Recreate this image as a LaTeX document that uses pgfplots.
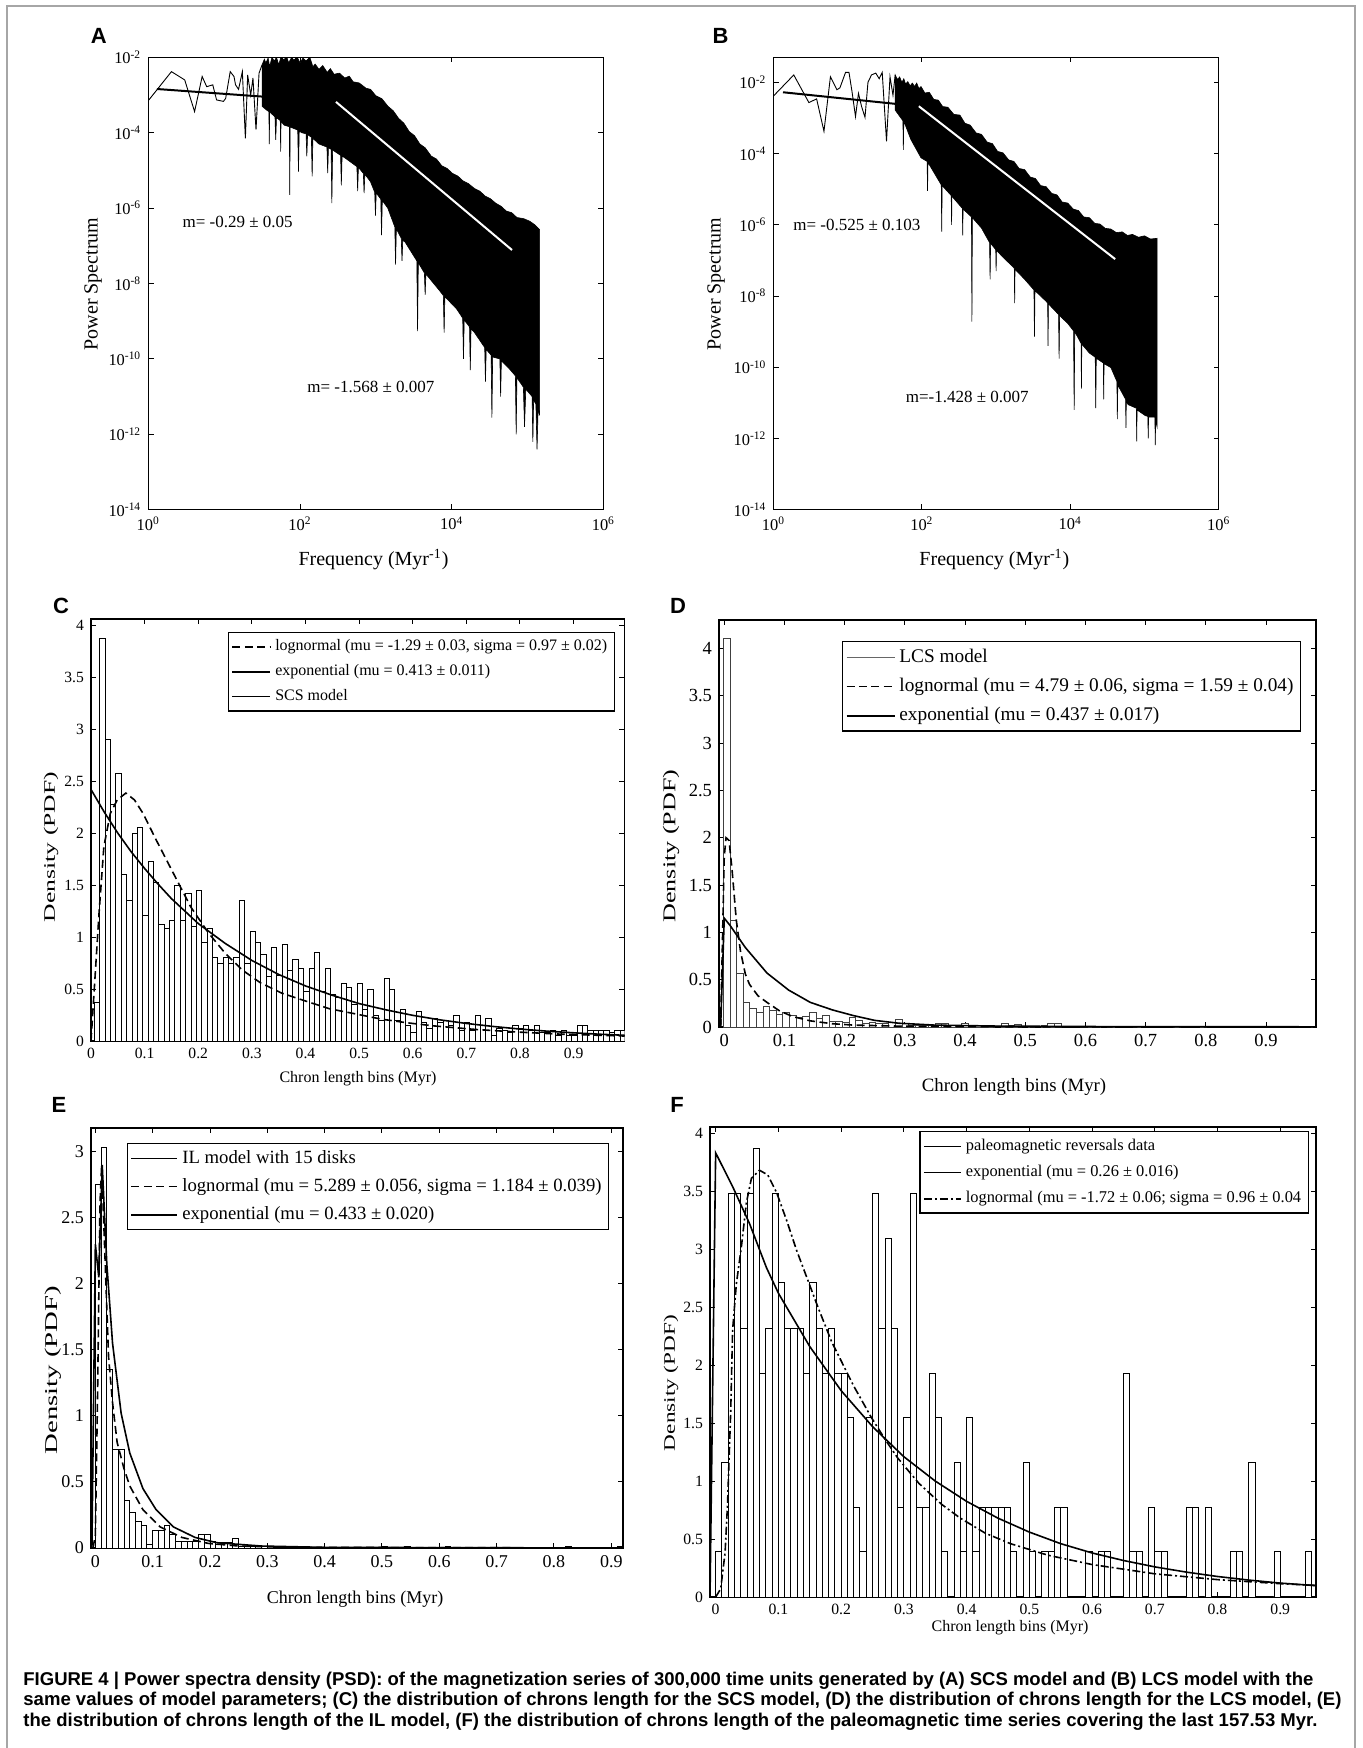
\documentclass[border=0pt]{standalone}
\usepackage{fontspec}
\setmainfont{Liberation Serif}
\newfontfamily\capfont{Liberation Sans}
\usepackage{pgfplots}
\pgfplotsset{compat=1.18}

\pgfplotsset{
  mlab/.style={
    scale only axis, anchor=south west,
    axis line style={line width=0.7pt},
    tick align=inside, major tick length=2.6pt,
    tick style={black, line width=0.5pt},
    /pgf/number format/assume math mode=true,
    legend cell align=left,
  },
  histo/.style={ybar, bar shift=0pt, fill=white, draw=black, line width=0.45pt, forget plot},
  curve/.style={black, line width=0.8pt, forget plot},
  dashc/.style={dash pattern=on 4pt off 2.2pt},
  dashdotc/.style={dash pattern=on 4pt off 1.5pt on 1pt off 1.5pt},
}
\newcommand\fs[1]{\fontsize{#1}{#1}\selectfont}

\begin{document}
\begin{tikzpicture}
\path[use as bounding box] (0,0) rectangle (681pt,-874pt);
\draw[gray!70, line width=0.6pt] (3.5pt,-874pt) -- (3.5pt,-3pt) -- (677.5pt,-3pt) -- (677.5pt,-874pt);

% ---------------- A ----------------
\begin{axis}[mlab, at={(74.15pt,-254.85pt)}, width=227.55pt, height=226.2pt,
  xmin=0, xmax=6, ymin=-14, ymax=-2,
  xtick={0,2,4,6},
  xticklabels={10\textsuperscript{0},10\textsuperscript{2},10\textsuperscript{4},10\textsuperscript{6}},
  ytick={-14,-12,-10,-8,-6,-4,-2},
  yticklabels={10\textsuperscript{-14},10\textsuperscript{-12},10\textsuperscript{-10},10\textsuperscript{-8},10\textsuperscript{-6},10\textsuperscript{-4},10\textsuperscript{-2}},
  tick label style={font=\fs{8.2}}]
\addplot[black, line width=0.45pt] coordinates {(0,-3.15) (0.305,-2.38) (0.48,-2.60) (0.61,-3.44) (0.71,-2.51) (0.77,-2.78) (0.85,-2.73) (0.90,-3.13) (0.99,-3.17) (1.02,-3.09) (1.08,-2.38) (1.13,-2.51) (1.15,-2.73) (1.19,-2.85) (1.24,-2.38) (1.28,-4.15) (1.31,-2.47) (1.35,-3.0) (1.38,-2.55) (1.42,-3.92) (1.46,-2.42) (1.50,-2.2)};
\addplot[fill=black, draw=black, line width=0.3pt] coordinates {
 (1.50,-2.20) (1.53,-2.05) (1.55,-2.15) (1.58,-2.02) (1.60,-2.25) (1.63,-2.0) (1.66,-2.10) (1.69,-2.0) (1.72,-2.20) (1.75,-1.98) (1.79,-2.08) (1.82,-1.95) (1.85,-2.15) (1.89,-2.0) (1.92,-2.08) (1.96,-1.98) (2.00,-2.15) (2.04,-2.02) (2.08,-2.10) (2.13,-2.0) (2.17,-2.25) (2.20,-2.18) (2.25,-2.32) (2.30,-2.22) (2.36,-2.40) (2.40,-2.30) (2.45,-2.45) (2.52,-2.42) (2.59,-2.55) (2.65,-2.50) (2.70,-2.65) (2.78,-2.68) (2.87,-2.82) (2.93,-2.85) (3.0,-3.02) (3.08,-3.10) (3.16,-3.30) (3.23,-3.42) (3.30,-3.62) (3.37,-3.75) (3.44,-3.97) (3.51,-4.08) (3.58,-4.30) (3.65,-4.40) (3.73,-4.62) (3.80,-4.70) (3.87,-4.88) (3.94,-4.95) (4.01,-5.08) (4.08,-5.15) (4.15,-5.28) (4.22,-5.35) (4.30,-5.48) (4.37,-5.55) (4.44,-5.68) (4.51,-5.75) (4.58,-5.87) (4.65,-5.95) (4.72,-6.08) (4.79,-6.12) (4.86,-6.25) (4.95,-6.28) (5.03,-6.35) (5.10,-6.45) (5.159,-6.57)
 (5.159,-11.5) (5.14,-11.3) (5.125,-12.4) (5.11,-11.2) (5.08,-11.1) (5.07,-12.2) (5.06,-11.0) (4.977,-10.8) (4.96,-11.8) (4.945,-10.75) (4.86,-10.5) (4.85,-12.0) (4.84,-10.45) (4.75,-10.24) (4.655,-10.05) (4.645,-11.0) (4.635,-10.0) (4.54,-9.95) (4.53,-11.56) (4.52,-9.9) (4.455,-9.75) (4.445,-10.6) (4.435,-9.7) (4.30,-9.3) (4.255,-9.2) (4.245,-10.3) (4.235,-9.15) (4.165,-8.97) (4.155,-10.0) (4.145,-8.92) (4.067,-8.68) (3.91,-8.35) (3.90,-9.3) (3.89,-8.32) (3.84,-8.19) (3.66,-7.75) (3.65,-8.3) (3.64,-7.72) (3.56,-7.45) (3.55,-9.26) (3.54,-7.40) (3.385,-6.90) (3.355,-6.85) (3.345,-7.4) (3.335,-6.8) (3.27,-6.55) (3.26,-7.50) (3.25,-6.50) (3.157,-6.0) (3.085,-5.80) (3.075,-6.72) (3.065,-5.76) (3.005,-5.6) (2.995,-6.2) (2.985,-5.58) (2.929,-5.3) (2.855,-5.1) (2.845,-5.6) (2.835,-5.08) (2.770,-4.92) (2.76,-5.55) (2.75,-4.90) (2.60,-4.68) (2.555,-4.62) (2.545,-5.4) (2.535,-4.60) (2.43,-4.46) (2.42,-5.87) (2.41,-4.44) (2.375,-4.40) (2.365,-5.07) (2.355,-4.38) (2.25,-4.30) (2.17,-4.15) (2.16,-5.16) (2.15,-4.12) (2.10,-4.05) (2.09,-4.63) (2.08,-4.03) (2.02,-4.00) (1.99,-3.95) (1.98,-5.03) (1.97,-3.93) (1.87,-3.85) (1.865,-5.65) (1.86,-3.84) (1.79,-3.80) (1.75,-3.7) (1.745,-4.5) (1.74,-3.68) (1.69,-3.6) (1.68,-4.19) (1.67,-3.58) (1.60,-3.45) (1.595,-4.3) (1.59,-3.44) (1.56,-3.40) (1.50,-3.3)} -- cycle;
\addplot[black, line width=1pt] coordinates {(0.114,-2.841) (2.474,-3.183)};
\addplot[white, line width=1pt] coordinates {(2.474,-3.183) (4.795,-7.112)};
\end{axis}

% ---------------- B ----------------
\begin{axis}[mlab, at={(386.75pt,-254.85pt)}, width=222.6pt, height=226.2pt,
  xmin=0, xmax=6, ymin=-14, ymax=-1.297,
  xtick={0,2,4,6},
  xticklabels={10\textsuperscript{0},10\textsuperscript{2},10\textsuperscript{4},10\textsuperscript{6}},
  ytick={-14,-12,-10,-8,-6,-4,-2},
  yticklabels={10\textsuperscript{-14},10\textsuperscript{-12},10\textsuperscript{-10},10\textsuperscript{-8},10\textsuperscript{-6},10\textsuperscript{-4},10\textsuperscript{-2}},
  tick label style={font=\fs{8.2}}]
\addplot[black, line width=0.45pt] coordinates {(0,-2.383) (0.273,-1.793) (0.477,-2.569) (0.581,-2.465) (0.680,-3.375) (0.767,-1.845) (0.855,-2.207) (0.895,-2.155) (0.971,-1.721) (1.017,-1.721) (1.058,-2.259) (1.105,-2.962) (1.145,-2.310) (1.186,-2.672) (1.233,-2.982) (1.273,-2.0) (1.320,-1.793) (1.378,-1.741) (1.424,-1.897) (1.465,-1.721) (1.523,-3.655) (1.570,-1.845) (1.610,-2.362) (1.64,-1.79)};
\addplot[fill=black, draw=black, line width=0.3pt] coordinates {
 (1.64,-1.79) (1.67,-1.92) (1.70,-1.85) (1.73,-2.0) (1.756,-1.90) (1.78,-2.05) (1.81,-1.98) (1.84,-2.10) (1.872,-2.02) (1.90,-2.12) (1.93,-2.02) (1.96,-2.18) (1.988,-2.12) (2.04,-2.30) (2.10,-2.28) (2.16,-2.48) (2.221,-2.50) (2.28,-2.68) (2.35,-2.70) (2.43,-2.90) (2.512,-2.92) (2.58,-3.15) (2.65,-3.20) (2.73,-3.42) (2.802,-3.46) (2.88,-3.68) (2.95,-3.72) (3.02,-3.94) (3.093,-3.98) (3.17,-4.18) (3.24,-4.22) (3.31,-4.42) (3.384,-4.45) (3.46,-4.66) (3.53,-4.70) (3.60,-4.90) (3.674,-4.93) (3.75,-5.12) (3.82,-5.16) (3.89,-5.36) (3.965,-5.39) (4.04,-5.56) (4.11,-5.60) (4.18,-5.78) (4.256,-5.80) (4.33,-5.96) (4.40,-5.98) (4.47,-6.10) (4.547,-6.12) (4.62,-6.22) (4.70,-6.20) (4.77,-6.30) (4.837,-6.27) (4.92,-6.35) (5.0,-6.31) (5.08,-6.40) (5.169,-6.38)
 (5.169,-11.67) (5.15,-11.5) (5.145,-12.19) (5.14,-11.4) (5.055,-11.4) (5.05,-12.0) (5.045,-11.38) (5.012,-11.36) (4.90,-11.2) (4.895,-12.08) (4.89,-11.15) (4.779,-11.05) (4.755,-10.95) (4.75,-11.7) (4.745,-10.9) (4.64,-10.5) (4.634,-11.46) (4.628,-10.4) (4.547,-10.01) (4.455,-9.9) (4.45,-10.9) (4.445,-9.88) (4.35,-9.75) (4.343,-11.15) (4.336,-9.72) (4.256,-9.60) (4.155,-9.35) (4.15,-10.6) (4.145,-9.33) (4.06,-9.0) (4.052,-11.20) (4.044,-8.98) (3.965,-8.77) (3.856,-8.55) (3.849,-9.76) (3.842,-8.52) (3.705,-8.22) (3.70,-9.4) (3.695,-8.2) (3.674,-8.15) (3.524,-7.85) (3.517,-9.14) (3.510,-7.83) (3.384,-7.53) (3.255,-7.25) (3.25,-8.2) (3.245,-7.22) (3.093,-6.91) (3.005,-6.72) (3.0,-7.3) (2.995,-6.70) (2.926,-6.52) (2.919,-7.53) (2.912,-6.50) (2.802,-6.09) (2.680,-5.80) (2.674,-8.72) (2.668,-5.78) (2.555,-5.56) (2.55,-6.3) (2.545,-5.54) (2.512,-5.46) (2.405,-5.2) (2.40,-6.0) (2.395,-5.18) (2.273,-4.90) (2.267,-6.19) (2.261,-4.88) (2.221,-4.74) (2.082,-4.25) (2.076,-5.05) (2.070,-4.22) (1.988,-4.12) (1.85,-3.60) (1.756,-3.09) (1.750,-3.9) (1.744,-3.08) (1.640,-2.78)} -- cycle;
\addplot[black, line width=1pt] coordinates {(0.128,-2.279) (1.959,-2.672)};
\addplot[white, line width=1pt] coordinates {(1.959,-2.672) (4.605,-6.964)};
\end{axis}

% ---------------- C ----------------
\begin{axis}[mlab, at={(45.5pt,-520.5pt)}, width=266.75pt, height=211pt,
  xmin=0, xmax=0.995, ymin=0, ymax=4.06,
  xtick={0,0.1,...,0.9}, ytick={0,0.5,...,4},
  tick label style={font=\fs{7.8}},
  legend style={at={(0.982,0.969)}, anchor=north east, font=\fs{8}, draw=black, line width=0.6pt, row sep=1.5pt, inner sep=1.5pt},
  legend image code/.code={\draw[#1] (0pt,0pt) -- (19pt,0pt);}]
\addplot[histo, bar width=0.01] coordinates {
(0.0115,0.37)(0.0215,3.87)(0.0315,2.90)(0.0415,2.28)(0.0515,2.57)(0.0615,1.60)(0.0715,1.35)(0.0815,2.00)(0.0915,2.05)(0.1015,1.21)
(0.1115,1.73)(0.1215,1.53)(0.1315,1.12)(0.1415,1.08)(0.1515,1.16)(0.1615,1.50)(0.1715,1.16)(0.1815,1.42)(0.1915,1.10)(0.2015,1.45)
(0.2115,0.95)(0.2215,1.08)(0.2315,0.80)(0.2415,0.75)(0.2515,0.80)(0.2615,0.75)(0.2715,0.80)(0.2815,1.35)(0.2915,0.75)(0.3015,1.05)
(0.3115,0.95)(0.3215,0.83)(0.3315,0.62)(0.3415,0.90)(0.3515,0.63)(0.3615,0.93)(0.3715,0.68)(0.3815,0.78)(0.3915,0.70)(0.4015,0.48)
(0.4115,0.70)(0.4215,0.85)(0.4315,0.48)(0.4415,0.70)(0.4515,0.45)(0.4615,0.42)(0.4715,0.55)(0.4815,0.52)(0.4915,0.35)(0.5015,0.55)
(0.5115,0.30)(0.5215,0.50)(0.5315,0.25)(0.5415,0.20)(0.5515,0.60)(0.5615,0.50)(0.5715,0.20)(0.5815,0.30)(0.5915,0.15)(0.6015,0.08)
(0.6115,0.28)(0.6215,0.18)(0.6315,0.12)(0.6415,0.22)(0.6515,0.18)(0.6615,0.20)(0.6715,0.15)(0.6815,0.25)(0.6915,0.10)(0.7015,0.18)
(0.7115,0.10)(0.7215,0.25)(0.7315,0.15)(0.7415,0.22)(0.7515,0.05)(0.7615,0.12)(0.7715,0.10)(0.7815,0.08)(0.7915,0.15)(0.8015,0.12)
(0.8115,0.15)(0.8215,0.10)(0.8315,0.15)(0.8415,0.08)(0.8515,0.08)(0.8615,0.10)(0.8715,0.05)(0.8815,0.10)(0.8915,0.05)(0.9015,0.05)
(0.9115,0.15)(0.9215,0.15)(0.9315,0.10)(0.9415,0.10)(0.9515,0.10)(0.9615,0.10)(0.9715,0.08)(0.9815,0.10)(0.9915,0.10)};
\addplot[curve, dashc] coordinates {(0,0) (0.006,0.49) (0.015,1.23) (0.024,1.87) (0.036,2.19) (0.049,2.32) (0.065,2.385) (0.081,2.32) (0.097,2.19) (0.121,1.94) (0.154,1.61) (0.186,1.29) (0.219,1.04) (0.251,0.84) (0.283,0.68) (0.316,0.56) (0.356,0.46) (0.397,0.39) (0.445,0.31) (0.494,0.26) (0.542,0.21) (0.59,0.175) (0.64,0.145) (0.72,0.11) (0.80,0.085) (0.88,0.065) (0.995,0.048)};
\addplot[curve] coordinates {(0,2.42) (0.025,2.20) (0.05,2.00) (0.075,1.82) (0.1,1.66) (0.125,1.51) (0.15,1.37) (0.175,1.25) (0.2,1.13) (0.25,0.94) (0.3,0.775) (0.35,0.64) (0.4,0.53) (0.45,0.44) (0.5,0.36) (0.55,0.30) (0.6,0.247) (0.65,0.204) (0.7,0.169) (0.75,0.14) (0.8,0.115) (0.85,0.095) (0.9,0.079) (0.95,0.065) (0.995,0.055)};
\addlegendimage{black, line width=0.8pt, dashc}
\addlegendentry{lognormal (mu = -1.29 ± 0.03, sigma = 0.97 ± 0.02)}
\addlegendimage{black, line width=0.9pt}
\addlegendentry{exponential (mu = 0.413 ± 0.011)}
\addlegendimage{black, line width=0.45pt}
\addlegendentry{SCS model}
\end{axis}

% ---------------- D ----------------
\begin{axis}[mlab, at={(359.5pt,-513.5pt)}, width=298.5pt, height=203.5pt,
  xmin=-0.0087, xmax=0.983, ymin=0, ymax=4.3,
  xtick={0,0.1,...,0.9}, ytick={0,0.5,...,4},
  tick label style={font=\fs{9.25}},
  legend style={at={(0.975,0.948)}, anchor=north east, font=\fs{9.65}, draw=black, line width=0.6pt, row sep=2.5pt, inner sep=1.5pt},
  legend image code/.code={\draw[#1] (0pt,0pt) -- (24pt,0pt);}]
\addplot[histo, draw=black!75, bar width=0.011] coordinates {
(0.004,4.10)(0.015,1.13)(0.026,0.57)(0.037,0.26)(0.048,0.20)(0.059,0.15)(0.070,0.22)(0.081,0.18)(0.092,0.13)(0.103,0.15)
(0.114,0.12)(0.125,0.10)(0.136,0.11)(0.147,0.15)(0.158,0.09)(0.169,0.12)(0.180,0.06)(0.191,0.06)(0.202,0.05)(0.213,0.10)
(0.224,0.07)(0.235,0.04)(0.246,0.05)(0.257,0.04)(0.268,0.04)(0.279,0.05)(0.290,0.08)(0.301,0.04)(0.312,0.02)(0.323,0.02)
(0.334,0.02)(0.345,0.02)(0.356,0.04)(0.367,0.04)(0.378,0.02)(0.389,0.01)(0.400,0.04)(0.411,0.01)(0.422,0.02)(0.433,0.01)
(0.444,0.02)(0.466,0.04)(0.477,0.02)(0.488,0.03)(0.510,0.01)(0.532,0.02)(0.543,0.04)(0.554,0.04)(0.598,0.01)(0.609,0.01)
(0.620,0.01)(0.642,0.01)(0.686,0.01)(0.752,0.01)(0.796,0.01)(0.972,0.01)};
\addplot[curve, dashc] coordinates {(-0.006,0) (-0.003,0.9) (0,1.8) (0.003,2.0) (0.008,1.97) (0.013,1.66) (0.02,1.13) (0.027,0.80) (0.035,0.56) (0.042,0.45) (0.056,0.33) (0.071,0.26) (0.092,0.17) (0.114,0.11) (0.143,0.065) (0.179,0.035) (0.215,0.02) (0.3,0.008) (0.5,0.002) (0.983,0)};
\addplot[curve] coordinates {(-0.006,0) (0,1.15) (0.01,1.07) (0.035,0.84) (0.071,0.57) (0.107,0.39) (0.143,0.26) (0.18,0.18) (0.215,0.12) (0.25,0.07) (0.29,0.04) (0.35,0.02) (0.45,0.01) (0.6,0.005) (0.983,0.002)};
\addlegendimage{black!60, line width=0.45pt}
\addlegendentry{LCS model}
\addlegendimage{black, line width=0.8pt, dashc}
\addlegendentry{lognormal (mu = 4.79 ± 0.06, sigma = 1.59 ± 0.04)}
\addlegendimage{black, line width=0.9pt}
\addlegendentry{exponential (mu = 0.437 ± 0.017)}
\end{axis}

% ---------------- E ----------------
\begin{axis}[mlab, at={(45.5pt,-774pt)}, width=266pt, height=210pt,
  xmin=-0.0076, xmax=0.9205, ymin=0, ymax=3.18,
  xtick={0,0.1,...,0.9}, ytick={0,0.5,...,3},
  tick label style={font=\fs{9}},
  legend style={at={(0.974,0.964)}, anchor=north east, font=\fs{9.35}, draw=black, line width=0.6pt, row sep=2pt, inner sep=1.5pt},
  legend image code/.code={\draw[#1] (0pt,0pt) -- (23pt,0pt);}]
\addplot[histo, bar width=0.01] coordinates {
(0.005,2.75)(0.015,3.03)(0.025,1.35)(0.035,0.75)(0.045,0.75)(0.055,0.36)(0.065,0.27)(0.075,0.20)(0.085,0.17)(0.095,0.03)
(0.105,0.13)(0.115,0.13)(0.125,0.17)(0.135,0.10)(0.145,0.05)(0.155,0.05)(0.165,0.05)(0.175,0.05)(0.185,0.10)(0.195,0.10)
(0.205,0.05)(0.215,0.03)(0.225,0.04)(0.235,0.04)(0.245,0.07)(0.255,0.01)(0.265,0.015)(0.275,0.01)(0.285,0.01)(0.295,0.01)
(0.305,0.01)(0.505,0.01)(0.545,0.01)(0.615,0.01)(0.825,0.01)(0.915,0.01)};
\addplot[curve, dashc] coordinates {(-0.004,0) (0,0.1) (0.004,1.2) (0.008,2.6) (0.011,2.9) (0.016,2.3) (0.023,1.45) (0.03,1.1) (0.038,0.80) (0.05,0.6) (0.06,0.47) (0.083,0.29) (0.113,0.16) (0.151,0.08) (0.197,0.035) (0.25,0.015) (0.35,0.005) (0.92,0)};
\addplot[curve] coordinates {(-0.006,0) (0,2.3) (0.006,2.05) (0.012,2.9) (0.02,2.15) (0.03,1.55) (0.045,1.02) (0.06,0.72) (0.083,0.45) (0.106,0.29) (0.136,0.16) (0.174,0.08) (0.212,0.04) (0.29,0.015) (0.4,0.005) (0.92,0)};
\addlegendimage{black, line width=0.45pt}
\addlegendentry{IL model with 15 disks}
\addlegendimage{black, line width=0.8pt, dashc}
\addlegendentry{lognormal (mu = 5.289 ± 0.056, sigma = 1.184 ± 0.039)}
\addlegendimage{black, line width=0.9pt}
\addlegendentry{exponential (mu = 0.433 ± 0.020)}
\end{axis}

% ---------------- F ----------------
\begin{axis}[mlab, at={(355pt,-798.5pt)}, width=303pt, height=235pt,
  xmin=-0.009, xmax=0.957, ymin=0, ymax=4.053,
  xtick={0,0.1,...,0.9}, ytick={0,0.5,...,4},
  tick label style={font=\fs{7.85}},
  legend style={at={(0.988,0.991)}, anchor=north east, font=\fs{8.2}, draw=black, line width=0.6pt, row sep=2pt, inner sep=1.5pt},
  legend image code/.code={\draw[#1] (0pt,0pt) -- (18.5pt,0pt);}]
\addplot[histo, bar width=0.01] coordinates {
(0.005,0.39)(0.015,1.16)(0.025,3.48)(0.035,3.48)(0.045,2.32)(0.055,3.48)(0.065,3.87)(0.075,1.93)(0.085,2.32)(0.095,3.48)
(0.105,2.71)(0.115,2.32)(0.125,2.32)(0.135,2.32)(0.145,1.93)(0.155,2.71)(0.165,2.32)(0.175,1.93)(0.185,2.32)(0.195,1.93)
(0.205,1.93)(0.215,1.55)(0.225,0.77)(0.235,0.39)(0.245,1.55)(0.255,3.48)(0.265,2.32)(0.275,3.09)(0.285,2.32)(0.295,0.77)
(0.305,1.55)(0.315,3.48)(0.325,0.77)(0.335,0.77)(0.345,1.93)(0.355,1.55)(0.365,0.39)(0.385,1.16)(0.395,0.39)
(0.405,1.55)(0.415,0.39)(0.425,0.77)(0.435,0.77)(0.445,0.77)(0.455,0.77)(0.465,0.77)(0.475,0.39)(0.495,1.16)
(0.505,0.39)(0.525,0.39)(0.535,0.39)(0.545,0.77)(0.555,0.77)(0.595,0.39)
(0.615,0.39)(0.625,0.39)(0.655,1.93)(0.665,0.39)(0.675,0.39)(0.695,0.77)
(0.705,0.39)(0.715,0.39)(0.755,0.77)(0.765,0.77)(0.785,0.77)
(0.825,0.39)(0.835,0.39)(0.855,1.16)(0.895,0.39)(0.945,0.39)};
\addplot[curve] coordinates {(-0.009,0) (0,3.83) (0.027,3.54) (0.054,3.22) (0.081,2.84) (0.1,2.62) (0.15,2.16) (0.2,1.78) (0.25,1.47) (0.3,1.21) (0.35,1.00) (0.4,0.825) (0.45,0.68) (0.5,0.56) (0.55,0.46) (0.6,0.38) (0.65,0.315) (0.7,0.26) (0.75,0.215) (0.8,0.177) (0.85,0.146) (0.9,0.12) (0.957,0.098)};
\addplot[curve, dashdotc] coordinates {(0,0) (0.008,0.07) (0.015,0.38) (0.019,0.81) (0.024,1.6) (0.027,2.3) (0.033,2.7) (0.041,3.02) (0.049,3.40) (0.057,3.61) (0.070,3.68) (0.083,3.64) (0.097,3.49) (0.113,3.25) (0.129,2.99) (0.145,2.76) (0.163,2.50) (0.185,2.2) (0.22,1.82) (0.248,1.55) (0.27,1.36) (0.29,1.20) (0.324,0.98) (0.36,0.80) (0.39,0.68) (0.43,0.55) (0.47,0.46) (0.53,0.36) (0.6,0.28) (0.7,0.2) (0.8,0.15) (0.9,0.115) (0.957,0.10)};
\addlegendimage{black, line width=0.45pt}
\addlegendentry{paleomagnetic reversals data}
\addlegendimage{black, line width=0.9pt}
\addlegendentry{exponential (mu = 0.26 ± 0.016)}
\addlegendimage{black, line width=0.8pt, dashdotc}
\addlegendentry{lognormal (mu = -1.72 ± 0.06; sigma = 0.96 ± 0.04}
\end{axis}

% ---------------- labels ----------------
\begin{scope}[every node/.style={inner sep=0pt}]
\node[rotate=90, font=\fs{10}] at (46.55pt,-141.95pt) {Power Spectrum};
\node[rotate=90, font=\fs{10}] at (358.05pt,-141.95pt) {Power Spectrum};
\node[font=\fs{10}] at (186.75pt,-279.7pt) {Frequency (Myr\textsuperscript{-1})};
\node[font=\fs{10}] at (497.2pt,-279.7pt) {Frequency (Myr\textsuperscript{-1})};
\node[font=\fs{8.5}] at (118.8pt,-110.8pt) {m= -0.29 ± 0.05};
\node[font=\fs{8.5}] at (185.45pt,-193.5pt) {m= -1.568 ± 0.007};
\node[font=\fs{8.5}] at (428.4pt,-112.5pt) {m= -0.525 ± 0.103};
\node[font=\fs{8.5}] at (483.6pt,-198.7pt) {m=-1.428 ± 0.007};

\node[rotate=90, font=\fs{8}] at (25.5pt,-423.5pt) {\scalebox{1.6}[1]{Density (PDF)}};
\node[rotate=90, font=\fs{9}] at (335.5pt,-423pt) {\scalebox{1.45}[1]{Density (PDF)}};
\node[rotate=90, font=\fs{9}] at (26.5pt,-685pt) {\scalebox{1.6}[1]{Density (PDF)}};
\node[rotate=90, font=\fs{8}] at (335.5pt,-691.5pt) {\scalebox{1.45}[1]{Density (PDF)}};
\node[font=\fs{8}] at (179pt,-539.5pt) {Chron length bins (Myr)};
\node[font=\fs{9.4}] at (507pt,-543.5pt) {Chron length bins (Myr)};
\node[font=\fs{9}] at (177.5pt,-799.5pt) {Chron length bins (Myr)};
\node[font=\fs{8}] at (505pt,-814pt) {Chron length bins (Myr)};

\node[font=\capfont\bfseries\fs{11}] at (49.35pt,-18.15pt) {A};
\node[font=\capfont\bfseries\fs{11}] at (360.25pt,-18.15pt) {B};
\node[font=\capfont\bfseries\fs{11}] at (30.5pt,-303pt) {C};
\node[font=\capfont\bfseries\fs{11}] at (339pt,-303pt) {D};
\node[font=\capfont\bfseries\fs{11}] at (29.5pt,-552.5pt) {E};
\node[font=\capfont\bfseries\fs{11}] at (338.5pt,-552.5pt) {F};

\node[anchor=base west] at (11.5pt,-842.5pt) {\resizebox{645pt}{!}{\capfont\bfseries\fs{7.65}FIGURE 4 | Power spectra density (PSD): of the magnetization series of 300,000 time units generated by (A) SCS model and (B) LCS model with the}};
\node[anchor=base west] at (11.5pt,-852.75pt) {\resizebox{659pt}{!}{\capfont\bfseries\fs{7.65}same values of model parameters; (C) the distribution of chrons length for the SCS model, (D) the distribution of chrons length for the LCS model, (E)}};
\node[anchor=base west] at (11.5pt,-863pt) {\resizebox{647pt}{!}{\capfont\bfseries\fs{7.65}the distribution of chrons length of the IL model, (F) the distribution of chrons length of the paleomagnetic time series covering the last 157.53 Myr.}};
\end{scope}
\end{tikzpicture}
\end{document}
